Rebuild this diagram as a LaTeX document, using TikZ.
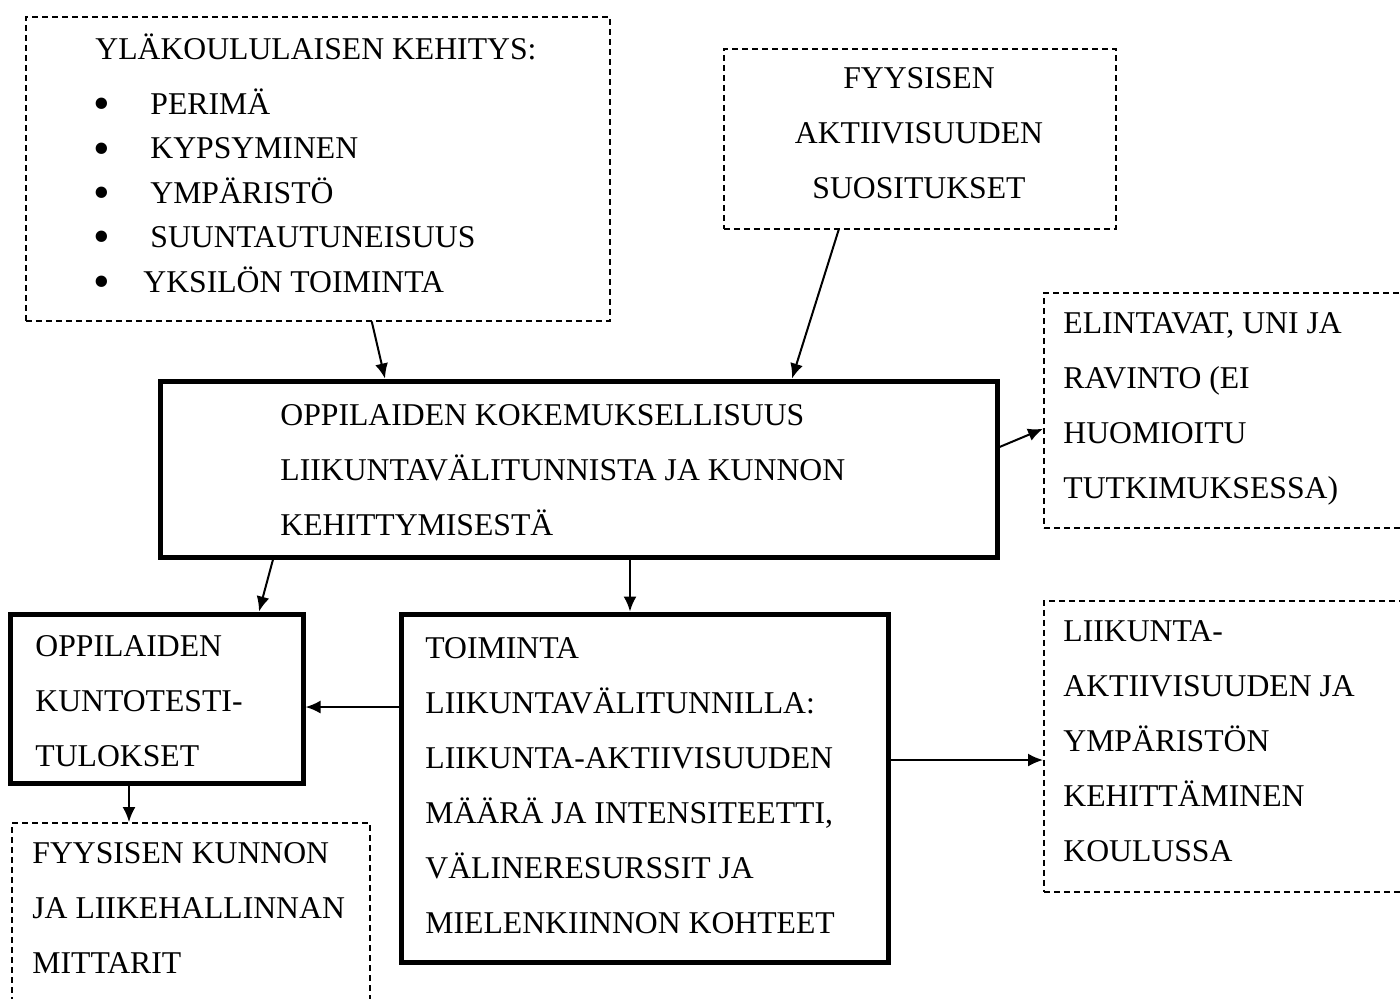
\documentclass[tikz,border=0pt]{standalone}
\usepackage{fontspec}
\setmainfont{Liberation Serif}
\usetikzlibrary{arrows.meta,calc,positioning}
\newcommand{\listdot}{\raisebox{-0.17em}{\scalebox{1.5}{\textbullet}}}
\tikzset{
  solidbox/.style = {draw, line width=2.5pt, inner sep=0pt},
  dashbox/.style  = {draw, line width=0.75pt, dash pattern=on 3pt off 2pt, inner sep=0pt},
  boxtext/.style  = {inner sep=0pt, align=left, anchor=base west,
                     font=\fontsize{15.85pt}{27.5pt}\selectfont},
  flow/.style     = {-{Latex[length=7.5pt,width=6.5pt]}, line width=1pt},
}

\begin{document}
\begin{tikzpicture}[x=0.5pt,y=-0.5pt]
  \useasboundingbox (0,0) rectangle (1400,998);
  \clip (0,0) rectangle (1400,998);

  % top boxes (text nodes sit on the baseline of their last line)
  \node[dashbox, anchor=north west, minimum width=292pt, minimum height=152pt] (kehitys) at (25,16) {};
  \node[boxtext] (kehitysotsikko) at (95,59) {YLÄKOULULAISEN KEHITYS:};
  \node[boxtext, font=\fontsize{15.85pt}{22.2pt}\selectfont] (kehityslista) at (93,292)
       {\makebox[28.5pt][l]{\listdot}PERIMÄ\\
        \makebox[28.5pt][l]{\listdot}KYPSYMINEN\\
        \makebox[28.5pt][l]{\listdot}YMPÄRISTÖ\\
        \makebox[28.5pt][l]{\listdot}SUUNTAUTUNEISUUS\\
        \makebox[25pt][l]{\listdot}YKSILÖN TOIMINTA};

  \node[dashbox, anchor=north west, minimum width=196pt, minimum height=90pt] (suositus) at (723,48) {};
  \node[boxtext, align=center, anchor=base] (suositusteksti) at (919,198)
       {FYYSISEN\\AKTIIVISUUDEN\\SUOSITUKSET};

  % central box
  \node[solidbox, anchor=north west, minimum width=418.5pt, minimum height=88pt] (kokemus) at (157.5,378.5) {};
  \node[boxtext] (kokemusteksti) at (280,535)
       {OPPILAIDEN KOKEMUKSELLISUUS\\LIIKUNTAVÄLITUNNISTA JA KUNNON\\KEHITTYMISESTÄ};

  \node[dashbox, anchor=north west, minimum width=200pt, minimum height=117.5pt] (elintavat) at (1043,292) {};
  \node[boxtext] (elintavatteksti) at (1063,498)
       {ELINTAVAT, UNI JA\\RAVINTO (EI\\HUOMIOITU\\TUTKIMUKSESSA)};

  % lower boxes
  \node[solidbox, anchor=north west, minimum width=146.5pt, minimum height=84.5pt] (tulokset) at (7.5,611.5) {};
  \node[boxtext] (tuloksetteksti) at (35,766)
       {OPPILAIDEN\\KUNTOTESTI-\\TULOKSET};

  \node[solidbox, anchor=north west, minimum width=243.5pt, minimum height=174pt] (toiminta) at (398.5,611.5) {};
  \node[boxtext] (toimintateksti) at (425,933)
       {TOIMINTA\\LIIKUNTAVÄLITUNNILLA:\\LIIKUNTA-AKTIIVISUUDEN\\MÄÄRÄ JA INTENSITEETTI,\\VÄLINERESURSSIT JA\\MIELENKIINNON KOHTEET};

  \node[dashbox, anchor=north west, minimum width=179pt, minimum height=125pt] (mittarit) at (11,822) {};
  \node[boxtext] (mittariteksti) at (32,973)
       {FYYSISEN KUNNON\\JA LIIKEHALLINNAN\\MITTARIT};

  \node[dashbox, anchor=north west, minimum width=200pt, minimum height=145.5pt] (kehittaminen) at (1043,600) {};
  \node[boxtext] (kehittaminenteksti) at (1063,861)
       {LIIKUNTA-\\AKTIIVISUUDEN JA\\YMPÄRISTÖN\\KEHITTÄMINEN\\KOULUSSA};

  % arrows
  \draw[flow] ([xshift=27pt]kehitys.south) -- ([xshift=-96.75pt]kokemus.north);
  \draw[flow] ([xshift=-40.5pt]suositus.south) -- ([xshift=106.75pt]kokemus.north);
  \draw[flow] ([yshift=11pt]kokemus.east) -- ([yshift=-9.25pt]elintavat.west);
  \draw[flow] ([xshift=-152.75pt]kokemus.south) -- ([xshift=51.25pt]tulokset.north);
  \draw[flow] ([xshift=25.75pt]kokemus.south) -- ([xshift=25.75pt]kokemus.south |- toiminta.north);
  \draw[flow] ([yshift=40.5pt]toiminta.west) -- ([yshift=40.5pt]toiminta.west -| tulokset.east);
  \draw[flow] ([xshift=-13.75pt]tulokset.south) -- ([xshift=-13.75pt]tulokset.south |- mittarit.north);
  \draw[flow] ([yshift=14pt]toiminta.east) -- ([yshift=14pt]toiminta.east -| kehittaminen.west);
\end{tikzpicture}
\end{document}
